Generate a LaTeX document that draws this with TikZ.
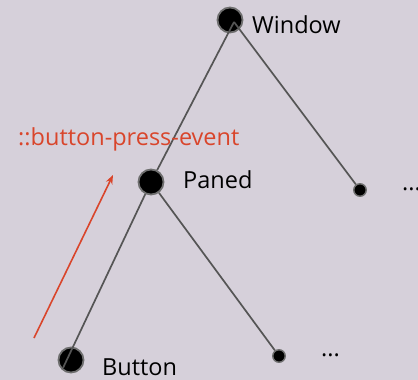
\documentclass[tikz,border=0pt]{standalone}
\usepackage{fontspec}
\setmainfont{Open Sans}
\usetikzlibrary{arrows.meta}
\definecolor{bgpurple}{HTML}{D6D0DA}
\definecolor{linegray}{HTML}{555555}
\definecolor{ringgray}{HTML}{6E6E6E}
\definecolor{eventred}{HTML}{D9452B}
\tikzset{
    widget/.style={circle,fill=black,draw=ringgray,line width=1.8pt,minimum size=25pt,inner sep=0pt},
    stub/.style={circle,fill=black,draw=ringgray,line width=1.4pt,minimum size=12.5pt,inner sep=0pt},
    widgetlabel/.style={anchor=base west,inner sep=0pt,font=\fontsize{23.5}{28}\selectfont},
    treeline/.style={linegray,line width=1.7pt}
}
\begin{document}
\begin{tikzpicture}[x=1pt,y=-1pt]
    \fill[bgpurple] (0,0) rectangle (418,380);
    \useasboundingbox (0,0) rectangle (418,380);

    % widgets
    \node[widget] (window) at (230,20) {};
    \node[widget] (paned) at (151,182) {};
    \node[widget] (button) at (71,360) {};
    \node[stub] (more1) at (360,190) {};
    \node[stub] (more2) at (279,356) {};

    \coordinate (wtip) at (234,22);
    \coordinate (btip) at (63,368);

    % tree
    \draw[treeline] (wtip) -- (paned);
    \draw[treeline] (wtip) -- (more1);
    \draw[treeline] (paned) -- (btip);
    \draw[treeline] (paned) -- (more2);

    % labels
    \node[widgetlabel] (windowlbl) at (252,33) {Window};
    \node[widgetlabel] (panedlbl) at (183,188) {Paned};
    \node[widgetlabel] (buttonlbl) at (102,375) {Button};
    \node[widgetlabel] (dots1) at (402,190) {...};
    \node[widgetlabel] (dots2) at (321,356) {...};

    % signal
    \node[widgetlabel,text=eventred] (signal) at (18,145) {::button-press-event};
    \coordinate (sigstart) at (34,338);
    \coordinate (sigend) at (113,175);
    \draw[eventred,line width=1.6pt,-{Stealth[length=9pt,width=7pt]}] (sigstart) -- (sigend);
\end{tikzpicture}
\end{document}
